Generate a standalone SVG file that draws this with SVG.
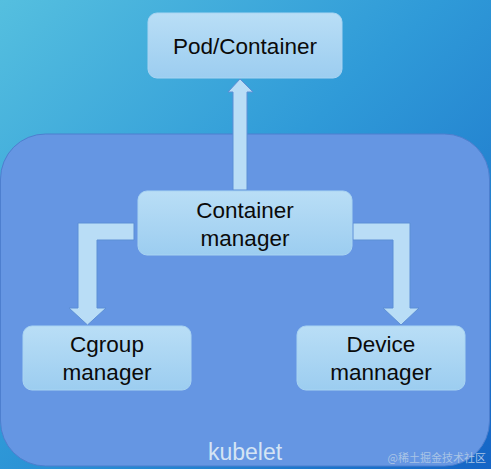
<svg xmlns="http://www.w3.org/2000/svg" width="491" height="469" viewBox="0 0 491 469">
<defs>
<linearGradient id="bg" x1="0" y1="0" x2="1" y2="1">
<stop offset="0" stop-color="#55bfdf"/>
<stop offset="0.45" stop-color="#2f9ad8"/>
<stop offset="1" stop-color="#1565c6"/>
</linearGradient>
<linearGradient id="node" x1="0" y1="0" x2="0" y2="1">
<stop offset="0" stop-color="#b9def6"/>
<stop offset="1" stop-color="#9ccdf0"/>
</linearGradient>
<style>
.node rect{fill:url(#node);stroke:#a9d4f2;stroke-width:1}
.node text{font-family:"Liberation Sans",Arial,sans-serif;font-size:22.5px;fill:#0a0a0a;text-anchor:middle}
.arrow{fill:#b9ddf6;stroke:#5d8fd6;stroke-width:1}
</style>
</defs>
<rect x="0" y="0" width="491" height="469" fill="url(#bg)"/>
<g id="kubelet">
<rect x="0.5" y="134" width="489" height="332" rx="45" fill="#6596e3" stroke="#4d7fcf" stroke-width="1"/>
<text x="245" y="460" font-family="Liberation Sans,Arial,sans-serif" font-size="23" fill="#d4e4f4" text-anchor="middle">kubelet</text>
</g>
<g id="connectors">
<path class="arrow" d="M233,190 L233,92 L228,92 L240,79 L253,92 L247,92 L247,190 Z"/>
<path class="arrow" d="M134,223 L78,223 L78,308 L69,308 L87.5,325 L106,308 L97,308 L97,240 L134,240 Z"/>
<path class="arrow" d="M353,223 L410,223 L410,308 L419,308 L401,325 L383,308 L393,308 L393,240 L353,240 Z"/>
</g>
<g id="pod" class="node">
<rect x="148" y="13" width="194" height="65" rx="9"/>
<text x="245" y="54">Pod/Container</text>
</g>
<g id="container-manager" class="node">
<rect x="138" y="191" width="214" height="64" rx="9"/>
<text x="245" y="218">Container</text>
<text x="245" y="246">manager</text>
</g>
<g id="cgroup-manager" class="node">
<rect x="23" y="326" width="168" height="64" rx="9"/>
<text x="107" y="352">Cgroup</text>
<text x="107" y="380">manager</text>
</g>
<g id="device-manager" class="node">
<rect x="297" y="326" width="168" height="64" rx="9"/>
<text x="381" y="352">Device</text>
<text x="381" y="380">mannager</text>
</g>
<text x="486" y="462" font-family="Noto Sans CJK SC,sans-serif" font-size="11" fill="#a9c4e6" text-anchor="end">@稀土掘金技术社区</text>
</svg>
